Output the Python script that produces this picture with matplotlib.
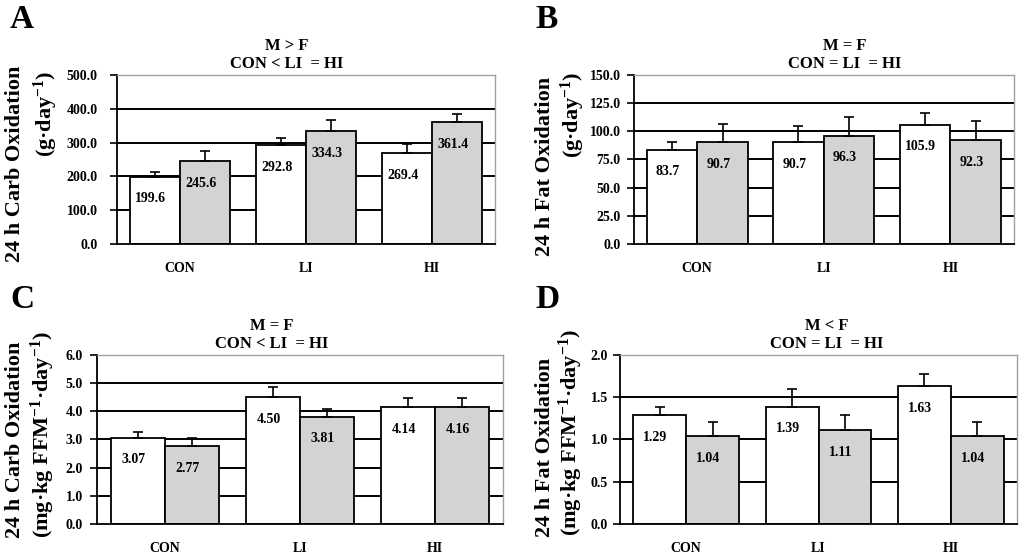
import matplotlib.pyplot as plt
import numpy as np

plt.rcParams['font.family'] = ['Liberation Serif', 'DejaVu Serif']
plt.rcParams['font.weight'] = 'bold'
plt.rcParams['mathtext.fontset'] = 'custom'
plt.rcParams['mathtext.rm'] = 'Liberation Serif:bold'
plt.rcParams['mathtext.default'] = 'rm'

groups = ["CON", "LI", "HI"]

# white bars (F) and grey bars (M), with upper SE bars
carb_abs_f = [199.6, 292.8, 269.4]
carb_abs_m = [245.6, 334.3, 361.4]
carb_abs_f_err = [12, 22, 25]
carb_abs_m_err = [30, 34, 23]

fat_abs_f = [83.7, 90.7, 105.9]
fat_abs_m = [90.7, 96.3, 92.3]
fat_abs_f_err = [7, 14, 10]
fat_abs_m_err = [16, 16, 16.5]

carb_rel_f = [3.07, 4.50, 4.14]
carb_rel_m = [2.77, 3.81, 4.16]
carb_rel_f_err = [0.20, 0.35, 0.35]
carb_rel_m_err = [0.27, 0.28, 0.31]

fat_rel_f = [1.29, 1.39, 1.63]
fat_rel_m = [1.04, 1.11, 1.04]
fat_rel_f_err = [0.09, 0.21, 0.15]
fat_rel_m_err = [0.17, 0.18, 0.17]

panels = [
    dict(letter="A", f=carb_abs_f, m=carb_abs_m, fe=carb_abs_f_err, me=carb_abs_m_err,
         ticks=np.arange(0, 501, 100), fmt="{:.1f}", lab="{:.1f}",
         title="M > F\nCON < LI  = HI", tx=0.45, ypad=9,
         yl1="24 h Carb Oxidation", yl2="(g·day$^{-1}$)",
         pos=[0.1143, 0.5596, 0.369, 0.305],
         l1=(15, 164), l2=(46, 114), lp=(22, 19)),
    dict(letter="B", f=fat_abs_f, m=fat_abs_m, fe=fat_abs_f_err, me=fat_abs_m_err,
         ticks=np.arange(0, 151, 25), fmt="{:.1f}", lab="{:.1f}",
         title="M = F\nCON = LI  = HI", tx=0.555, ypad=4.5,
         yl1="24 h Fat Oxidation", yl2="(g·day$^{-1}$)",
         pos=[0.619, 0.5596, 0.371, 0.305],
         l1=(545, 166), l2=(573, 115), lp=(547, 19)),
    dict(letter="C", f=carb_rel_f, m=carb_rel_m, fe=carb_rel_f_err, me=carb_rel_m_err,
         ticks=np.arange(0, 6.01, 1.0), fmt="{:.1f}", lab="{:.2f}",
         title="M = F\nCON < LI  = HI", tx=0.43, ypad=5,
         yl1="24 h Carb Oxidation", yl2="(mg·kg FFM$^{-1}$·day$^{-1}$)",
         pos=[0.0947, 0.0542, 0.3965, 0.305],
         l1=(15, 440), l2=(43, 435), lp=(22, 299)),
    dict(letter="D", f=fat_rel_f, m=fat_rel_m, fe=fat_rel_f_err, me=fat_rel_m_err,
         ticks=np.arange(0, 2.01, 0.5), fmt="{:.1f}", lab="{:.2f}",
         title="M < F\nCON = LI  = HI", tx=0.52, ypad=3.5,
         yl1="24 h Fat Oxidation", yl2="(mg·kg FFM$^{-1}$·day$^{-1}$)",
         pos=[0.6055, 0.0542, 0.3877, 0.305],
         l1=(545, 447), l2=(571, 433), lp=(547, 299)),
]

W, H = 1024, 554
fig = plt.figure(figsize=(W / 100, H / 100), dpi=100)

x = np.arange(len(groups))
w = 0.4
for p in panels:
    ax = fig.add_axes(p["pos"])
    ymax = p["ticks"][-1]
    for t in p["ticks"][1:-1]:
        ax.axhline(t, color="black", lw=1.4, zorder=1)
    for vals, errs, col, off in [(p["f"], p["fe"], "white", -w / 2), (p["m"], p["me"], "#d3d3d3", w / 2)]:
        ax.bar(x + off, vals, w, color=col, edgecolor="black", lw=1.3, zorder=2)
        ax.errorbar(x + off, vals, yerr=[np.zeros(len(vals)), errs], fmt="none",
                    ecolor="black", elinewidth=1.2, capsize=3.5, capthick=1.2, zorder=3)
        for xi, v in zip(x + off, vals):
            ax.annotate(p["lab"].format(v), (xi, v), xytext=(-3, -16), textcoords="offset points",
                        ha="center", va="center", fontsize=10, fontweight="bold", zorder=4)
    ax.set_xlim(-0.5, 2.5)
    ax.set_ylim(0, ymax)
    ax.set_yticks(p["ticks"])
    ax.set_yticklabels([p["fmt"].format(t) for t in p["ticks"]], fontsize=10, fontweight="bold")
    ax.set_xticks(x)
    ax.set_xticklabels(groups, fontsize=10, fontweight="bold")
    ax.tick_params(axis="x", length=0, pad=13)
    ax.tick_params(axis="y", length=5, width=1.2, pad=p["ypad"], direction="out")
    for s in ["left", "bottom"]:
        ax.spines[s].set_color("black")
        ax.spines[s].set_linewidth(1.3)
    for s in ["top", "right"]:
        ax.spines[s].set_color("#a0a0a0")
        ax.spines[s].set_linewidth(1.0)
    ax.set_title(p["title"], x=p["tx"], pad=5, fontsize=12, fontweight="bold", linespacing=1.15)

    fig.text(p["l1"][0] / W, 1 - p["l1"][1] / H, p["yl1"], rotation=90, ha="center", va="center",
             fontsize=16, fontweight="bold")
    fig.text(p["l2"][0] / W, 1 - p["l2"][1] / H, p["yl2"], rotation=90, ha="center", va="center",
             fontsize=16, fontweight="bold")
    fig.text(p["lp"][0] / W, 1 - p["lp"][1] / H, p["letter"], ha="center", va="center",
             fontsize=24, fontweight="bold")

fig.savefig("out.png", dpi=100)
